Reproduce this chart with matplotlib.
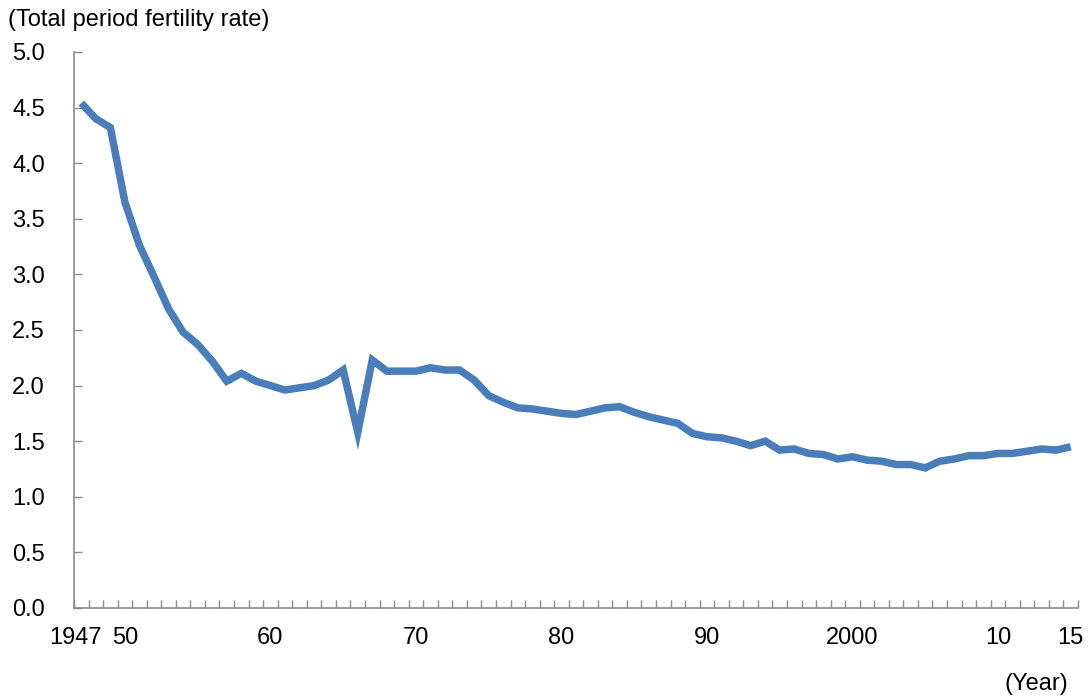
import numpy as np
import matplotlib
matplotlib.use("Agg")
import matplotlib.pyplot as plt
import matplotlib.transforms as mtransforms
from matplotlib.ticker import FixedLocator, FormatStrFormatter

plt.rcParams['font.family'] = ['Liberation Sans', 'DejaVu Sans']

years = list(range(1947, 2016))
tfr = [4.54, 4.40, 4.32, 3.65, 3.26, 2.98, 2.69, 2.48, 2.37, 2.22,
       2.04, 2.11, 2.04, 2.00, 1.96, 1.98, 2.00, 2.05, 2.14, 1.58,
       2.23, 2.13, 2.13, 2.13, 2.16, 2.14, 2.14, 2.05, 1.91, 1.85,
       1.80, 1.79, 1.77, 1.75, 1.74, 1.77, 1.80, 1.81, 1.76, 1.72,
       1.69, 1.66, 1.57, 1.54, 1.53, 1.50, 1.46, 1.50, 1.42, 1.43,
       1.39, 1.38, 1.34, 1.36, 1.33, 1.32, 1.29, 1.29, 1.26, 1.32,
       1.34, 1.37, 1.37, 1.39, 1.39, 1.41, 1.43, 1.42, 1.45]
label_years = [1947, 1950, 1960, 1970, 1980, 1990, 2000, 2010, 2015]
label_text = ["1947", "50", "60", "70", "80", "90", "2000", "10", "15"]

axis_grey = "#8c8c8c"
fs = 17

fig = plt.figure(figsize=(10.88, 6.97), dpi=100)
ax = fig.add_axes([0.068, 0.1277, 0.9228, 0.7977])

x = np.arange(len(years))
ax.plot(x, tfr, color="#4a7ebb", linewidth=5.4, solid_joinstyle="miter",
        solid_capstyle="butt")

ax.set_xlim(-0.5, len(years) - 0.5)
ax.set_ylim(0, 5)

# category axis: small ticks between years, labels on selected years
ax.xaxis.set_minor_locator(FixedLocator(np.arange(-0.5, len(years), 1.0)))
ax.set_xticks([years.index(y) for y in label_years])
ax.set_xticklabels(label_text)
ax.tick_params(axis="x", which="major", length=0, pad=14, labelsize=fs)
ax.tick_params(axis="x", which="minor", direction="in", length=6,
               color=axis_grey, width=1)
# nudge "1947" left so it doesn't crowd "50"
first = ax.get_xticklabels()[0]
first.set_transform(first.get_transform() +
                    mtransforms.ScaledTranslation(-6 / 100, 0, fig.dpi_scale_trans))

ax.set_yticks(np.arange(0, 5.01, 0.5))
ax.yaxis.set_major_formatter(FormatStrFormatter("%.1f"))
ax.tick_params(axis="y", direction="in", length=6, color=axis_grey,
               width=1, pad=21, labelsize=fs)

for side in ["top", "right"]:
    ax.spines[side].set_visible(False)
for side in ["left", "bottom"]:
    ax.spines[side].set_color(axis_grey)
    ax.spines[side].set_linewidth(1.2)

fig.text(0.007, 0.971, "(Total period fertility rate)", fontsize=fs,
         ha="left", va="center")
fig.text(0.982, 0.018, "(Year)", fontsize=fs, ha="right", va="center")

fig.savefig("out.png", dpi=100)
